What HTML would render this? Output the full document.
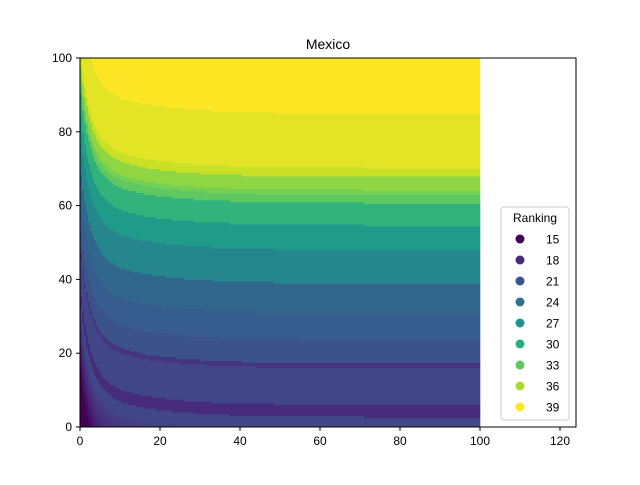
<!DOCTYPE html>
<html><head><meta charset="utf-8"><style>
body{margin:0;background:#fff;}
svg text{font-family:"Liberation Sans",sans-serif;}
</style></head><body>
<svg id="c" width="640" height="480" xmlns="http://www.w3.org/2000/svg">
<rect width="640" height="480" fill="#fff"/>
<g id="plot"></g>
<rect x="80" y="58" width="496" height="369" fill="none" stroke="#000" stroke-width="1"/>
<g id="ticks"></g>
<text x="328" y="49" font-size="14" text-anchor="middle">Mexico</text>
<g id="legend"></g>
</svg>
<script>
const bandTops=[2.7,6,15.9,17.3,23.6,30.9,39,48,54.7,60.7,62.9,64.2,67.8,70.2,85,100];
const bandRanks=[20,18,20,18.6,21,22,23,26,28,30.5,33,34,35,37,38,39];
const xTicks=[0,20,40,60,80,100,120];
const yTicks=[0,20,40,60,80,100];
const legendRanks=[15,18,21,24,27,30,33,36,39];
const xMax=124;
const NS="http://www.w3.org/2000/svg";
function X(v){return 80+v*(496/xMax);}
function Y(v){return 427-v*3.69;}
const stops=["#440154","#482475","#414487","#355f8d","#2a788e","#21918c","#22a884","#44bf70","#7ad151","#bddf26","#fde725"];
function hx(h){return [1,3,5].map(i=>parseInt(h.substr(i,2),16));}
function color(r){let t=Math.max(0,Math.min(1,(r-15)/24))*10;let i=Math.min(9,Math.floor(t)),f=t-i;const a=hx(stops[i]),b=hx(stops[i+1]);return "rgb("+a.map((v,k)=>Math.round(v+(b[k]-v)*f)).join(",")+")";}
function g(x){return 0.75*Math.exp(-x/2.5)+0.25*Math.exp(-x/14);}
function rankAt(x,y){const yr=y-32*g(x);if(yr<0)return Math.max(15,20+yr*0.3);for(let i=0;i<bandTops.length;i++){if(yr<=bandTops[i])return bandRanks[i];}return 39;}
const plot=document.getElementById('plot');
const dx=0.5,dy=0.5;
for(let x=0;x<100;x+=dx){let start=0,cur=rankAt(x+dx/2,dy/2);
 for(let y=dy;y<=100+1e-9;y+=dy){const r=y<100-1e-9?rankAt(x+dx/2,y+dy/2):null;
  if(r!==cur){const el=document.createElementNS(NS,'rect');
   el.setAttribute('x',X(x));el.setAttribute('width',X(x+dx)-X(x)+0.3);
   el.setAttribute('y',Y(y));el.setAttribute('height',Y(start)-Y(y)+0.3);
   el.setAttribute('fill',color(cur));
   
   
   plot.appendChild(el);start=y;cur=r;}}}
const tk=document.getElementById('ticks');
xTicks.forEach(v=>{const l=document.createElementNS(NS,'line');l.setAttribute('x1',X(v));l.setAttribute('x2',X(v));l.setAttribute('y1',427);l.setAttribute('y2',431);l.setAttribute('stroke','#000');


tk.appendChild(l);const t=document.createElementNS(NS,'text');t.setAttribute('x',X(v));t.setAttribute('y',445);t.setAttribute('font-size','12');t.setAttribute('text-anchor','middle');t.textContent=v;


tk.appendChild(t);});
yTicks.forEach(v=>{const l=document.createElementNS(NS,'line');l.setAttribute('x1',76);l.setAttribute('x2',80);l.setAttribute('y1',Y(v));l.setAttribute('y2',Y(v));l.setAttribute('stroke','#000');


tk.appendChild(l);const t=document.createElementNS(NS,'text');t.setAttribute('x',72);t.setAttribute('y',Y(v)+4);t.setAttribute('font-size','12');t.setAttribute('text-anchor','end');t.textContent=v;


tk.appendChild(t);});
const lg=document.getElementById('legend');
const box=document.createElementNS(NS,'rect');box.setAttribute('x',501);box.setAttribute('y',207);box.setAttribute('width',68);box.setAttribute('height',213);box.setAttribute('rx',3);box.setAttribute('fill','#fff');box.setAttribute('fill-opacity','0.8');box.setAttribute('stroke','#ccc');


lg.appendChild(box);
const lt=document.createElementNS(NS,'text');lt.setAttribute('x',535);lt.setAttribute('y',222);lt.setAttribute('font-size','12');lt.setAttribute('text-anchor','middle');lt.textContent='Ranking';


lg.appendChild(lt);
legendRanks.forEach((r,i)=>{const cy=239+i*21;const c=document.createElementNS(NS,'circle');c.setAttribute('cx',520);c.setAttribute('cy',cy);c.setAttribute('r',4.5);c.setAttribute('fill',color(r));


lg.appendChild(c);const t=document.createElementNS(NS,'text');t.setAttribute('x',546);t.setAttribute('y',cy+4.5);t.setAttribute('font-size','12');t.textContent=r;


lg.appendChild(t);});
</script>
</body></html>
